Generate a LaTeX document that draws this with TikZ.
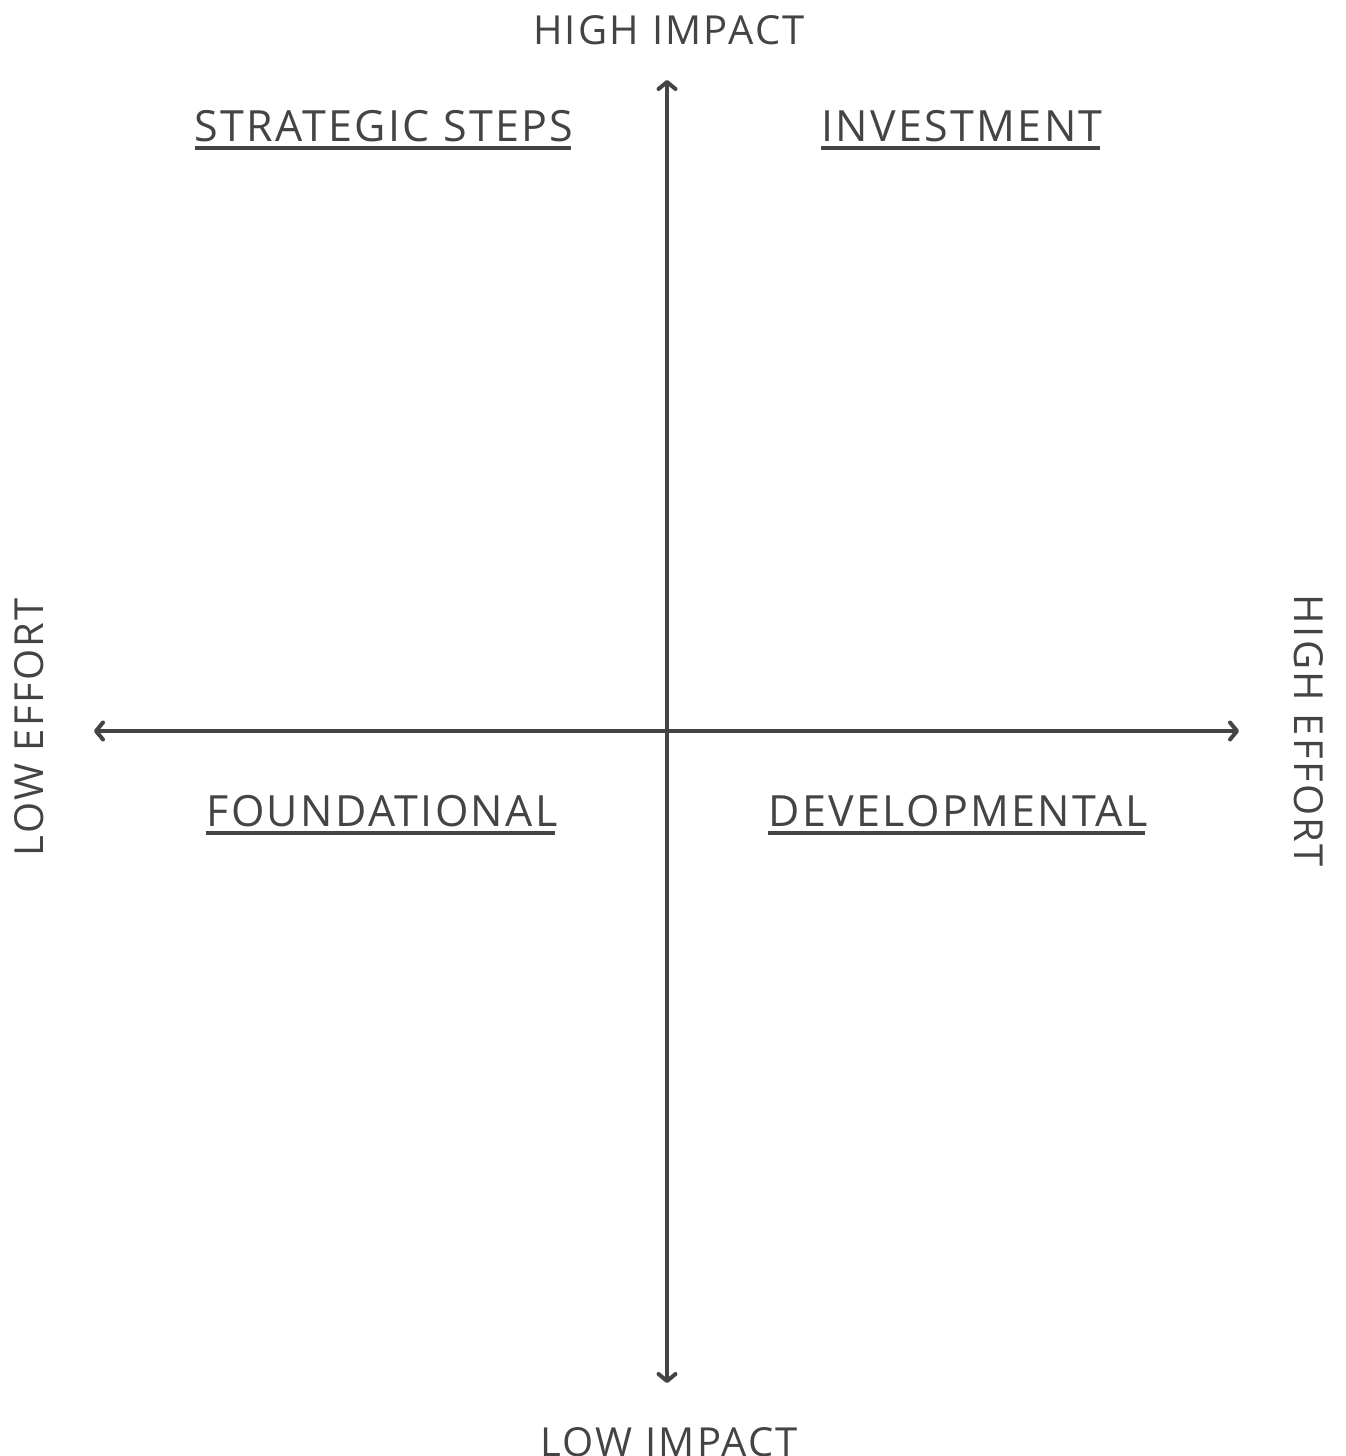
\documentclass[tikz,border=0pt]{standalone}
\usepackage{fontspec}
\setmainfont{Open Sans}
\newfontfamily\axisfont{Open Sans}[LetterSpace=5.8]
\newfontfamily\quadfont{Open Sans}[LetterSpace=5.4]
\usetikzlibrary{arrows.meta}
\definecolor{ink}{HTML}{444444}
\begin{document}
\begin{tikzpicture}[x=1pt,y=-1pt,
  axis/.style={draw=ink,line width=4pt,line cap=round,{Straight Barb[length=7pt,width=17pt,line width=4pt,round]}-{Straight Barb[length=7pt,width=17pt,line width=4pt,round]}},
  lbl/.style={text=ink,font=\axisfont\fontsize{40}{48}\selectfont,inner sep=0pt,anchor=base},
  quad/.style={text=ink,font=\quadfont\fontsize{43}{51}\selectfont,inner sep=0pt,anchor=base},
  uline/.style={draw=ink,line width=3.5pt}]
\useasboundingbox (0,0) rectangle (1345,1456);
\coordinate (top) at (667,80);
\coordinate (bot) at (667,1383);
\coordinate (lft) at (94,731);
\coordinate (rgt) at (1239,731);
\draw[axis] (bot) -- (top);
\draw[axis] (lft) -- (rgt);
\node[lbl] (hi) at (669,44) {HIGH IMPACT};
\node[lbl] (lo) at (669,1456) {LOW IMPACT};
\node[lbl,rotate=90] (le) at (43,727) {LOW EFFORT};
\node[lbl,rotate=-90] (he) at (1294,731) {HIGH EFFORT};
\node[quad] (ss) at (384,141) {STRATEGIC STEPS};
\node[quad] (inv) at (962,141) {INVESTMENT};
\node[quad] (fo) at (382,826) {FOUNDATIONAL};
\node[quad] (de) at (958,826) {DEVELOPMENTAL};
\foreach \n in {ss,inv,fo,de}{
  \draw[uline] ([yshift=-7pt]\n.base west) -- ([yshift=-7pt,xshift=-2.3pt]\n.base east);
}
\end{tikzpicture}
\end{document}
